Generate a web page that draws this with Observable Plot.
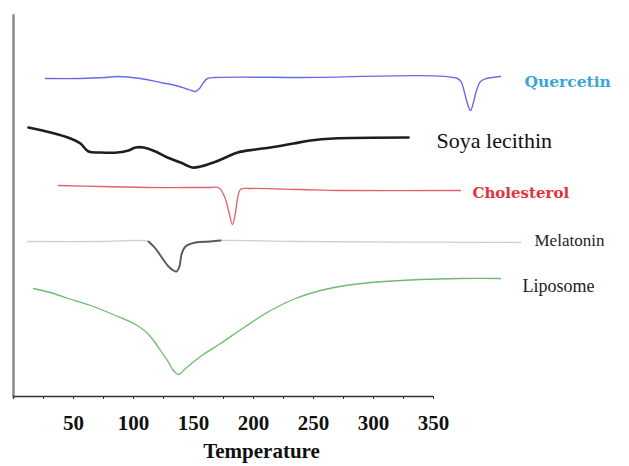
<!DOCTYPE html>
<html>
<head>
<meta charset="utf-8">
<script src="https://cdn.jsdelivr.net/npm/d3@7"></script>
<script src="https://cdn.jsdelivr.net/npm/@observablehq/plot@0.6"></script>
<style>
  html, body { margin: 0; padding: 0; background: #fff; }
</style>
</head>
<body>
<div id="chart"></div>
<script>
// DSC thermograms (arbitrary heat-flow units, offset per sample)
const quercetinT = [26.7, 55.8, 76.7, 86.7, 105.8, 122.5, 135, 143.3, 148.3, 151.7, 155, 158.3, 161.7, 168.3, 239.2, 370, 373.3, 375.8, 378.3, 380.8, 383.3, 385.8, 389.2, 394.2, 399.2, 405.8];
const quercetinH = [318, 318, 319, 320, 318, 314, 311, 308, 306, 305, 308, 314, 318, 319, 319, 318, 314, 304, 293, 286, 294, 306, 315, 318, 319, 320];

const soyaT = [12.5, 30.8, 47.5, 55.8, 62.5, 72.5, 86.7, 95.8, 101.7, 108.3, 118.3, 128.3, 139.2, 149.2, 155.8, 166.7, 176.7, 186.7, 201.7, 214.2, 233.3, 247.5, 266.7, 329.2];
const soyaH = [269, 264, 258, 253, 245, 244, 244, 246, 249, 249, 245, 239, 234, 229, 230, 234, 239, 244, 247, 249, 253, 256, 258, 259];

const cholesterolT = [37.5, 72.5, 114.2, 145, 164.2, 170.8, 175.8, 179.2, 182.5, 185, 186.7, 189.2, 197.5, 239.2, 272.5, 372.5];
const cholesterolH = [211, 210, 209, 209, 209, 209, 200, 186, 172, 184, 198, 207, 208, 207, 206, 206];

const melatoninT = [11.7, 72.5, 105.8, 112.5, 118.3, 124.2, 129.2, 133.3, 135.8, 138.3, 140, 143.3, 151.7, 164.2, 172.5, 239.2, 422.5];
const melatoninH = [155, 155, 156, 155, 148, 138, 130, 126, 125, 130, 142, 150, 154, 155, 156, 155, 154];

const liposomeT = [16.7, 30.8, 45.8, 64.2, 85, 101.7, 110, 116.7, 122.5, 128.3, 133.3, 137.5, 143.3, 155.8, 172.5, 193.3, 214.2, 235, 255.8, 276.7, 297.5, 339.2, 372.5, 405.8];
const liposomeH = [108, 104, 98, 91, 81, 72, 65, 56, 46, 36, 26, 22, 28, 40, 53, 70, 86, 98, 106, 111, 114, 117, 118, 118];

const xTicks = [0, 25, 50, 75, 100, 125, 150, 175, 200, 225, 250, 275, 300, 325, 350];
const xTickLabels = [50, 100, 150, 200, 250, 300, 350];
const xTitle = "Temperature";

const toRows = (T, H) => T.map((t, i) => ({t, h: H[i]}));
const quercetin = toRows(quercetinT, quercetinH);
const soya = toRows(soyaT, soyaH);
const cholesterol = toRows(cholesterolT, cholesterolH);
const melatonin = toRows(melatoninT, melatoninH);
const melatoninPeak = melatonin.filter(d => d.t >= 112 && d.t <= 173);
const liposome = toRows(liposomeT, liposomeH);

const serif = "'Liberation Serif', 'Times New Roman', serif";
const wideSerif = "'DejaVu Serif', serif";

const label = (data, text, o) => Plot.text(data, Plot.selectLast({
  x: "t", y: "h", text: () => text, textAnchor: "start", ...o
}));

const chart = Plot.plot({
  width: 629,
  height: 466,
  marginLeft: 13,
  marginRight: 0,
  marginTop: 15,
  marginBottom: 70,
  style: {background: "#fff", fontFamily: serif},
  x: {domain: [0, (629 - 13) / 1.2]},
  y: {domain: [0, 381], axis: null},
  marks: [
    Plot.frame({anchor: "left", stroke: "#8a8a8a", strokeWidth: 2.5}),
    Plot.ruleY([0], {x1: xTicks[0], x2: xTicks[xTicks.length - 1], stroke: "#333", strokeWidth: 1.5}),
    Plot.axisX({
      ticks: xTicks,
      tickSize: 3,
      tickPadding: 16,
      stroke: "#333",
      tickFormat: d => xTickLabels.includes(d) ? String(d) : "",
      fontFamily: serif,
      fontWeight: "bold",
      fontSize: 21,
      fill: "#111",
      label: null
    }),
    Plot.text([xTitle], {
      x: () => 206.7, frameAnchor: "bottom", dy: 61,
      text: d => d, fontFamily: serif, fontWeight: "bold", fontSize: 21, fill: "#111"
    }),
    Plot.line(quercetin, {x: "t", y: "h", stroke: "#6a6ae6", strokeWidth: 1.4, curve: "catmull-rom"}),
    Plot.line(soya, {x: "t", y: "h", stroke: "#1e1e1e", strokeWidth: 2.6, curve: "catmull-rom"}),
    Plot.line(cholesterol, {x: "t", y: "h", stroke: "#e2606c", strokeWidth: 1.3, curve: "catmull-rom"}),
    Plot.line(melatonin, {x: "t", y: "h", stroke: "#cfcfcf", strokeWidth: 1.3, curve: "catmull-rom"}),
    Plot.line(melatoninPeak, {x: "t", y: "h", stroke: "#5a5a5a", strokeWidth: 1.9, curve: "catmull-rom"}),
    Plot.line(liposome, {x: "t", y: "h", stroke: "#6dbb6d", strokeWidth: 1.3, curve: "catmull-rom"}),
    label(quercetin, "Quercetin", {dx: 24, dy: 6, fill: "#3aa6d6", fontFamily: wideSerif, fontWeight: "bold", fontSize: 15.5, letterSpacing: "2.6px"}),
    label(soya, "Soya lecithin", {dx: 28, dy: 3, fill: "#111", fontFamily: serif, fontSize: 22}),
    label(cholesterol, "Cholesterol", {dx: 12, dy: 3, fill: "#e2323e", fontFamily: wideSerif, fontWeight: "bold", fontSize: 15, letterSpacing: "1.6px"}),
    label(melatonin, "Melatonin", {dx: 14, dy: -2, fill: "#222", fontFamily: serif, fontSize: 17}),
    label(liposome, "Liposome", {dx: 22, dy: 8, fill: "#222", fontFamily: serif, fontSize: 18})
  ]
});
document.getElementById("chart").appendChild(chart);
</script>
</body>
</html>
